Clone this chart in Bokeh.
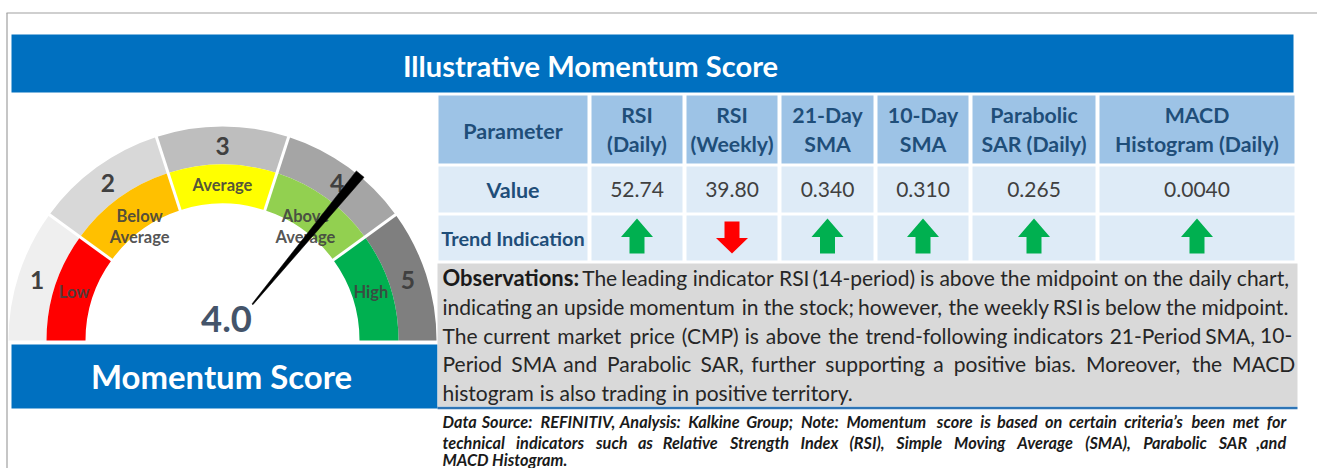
import math
from bokeh.plotting import figure
from bokeh.models import Range1d
from bokeh.embed import file_html
from bokeh.resources import INLINE
from bokeh.core.properties import value

# ---------------- data ----------------
title = "Illustrative Momentum Score"
score_title = "Momentum Score"
score = 4.0
level_labels = ["1", "2", "3", "4", "5"]
band_labels = ["Low", "Below Average", "Average", "Above Average", "High"]
row_labels = ["Parameter", "Value", "Trend Indication"]
parameters = ["RSI (Daily)", "RSI (Weekly)", "21-Day SMA", "10-Day SMA",
              "Parabolic SAR (Daily)", "MACD Histogram (Daily)"]
param_values = ["52.74", "39.80", "0.340", "0.310", "0.265", "0.0040"]
trends = ["up", "down", "up", "up", "up", "up"]
observation_lines = [
    "Observations: The leading indicator RSI (14-period) is above the midpoint on the daily chart,",
    "indicating an upside momentum in the stock; however, the weekly RSI is below the midpoint.",
    "The current market price (CMP) is above the trend-following indicators 21-Period SMA, 10-",
    "Period SMA and Parabolic SAR, further supporting a positive bias. Moreover, the MACD",
    "histogram is also trading in positive territory.",
]
note_lines = [
    "Data Source: REFINITIV, Analysis: Kalkine Group; Note:  Momentum score is based on certain criteria\u2019s been met for",
    "technical indicators such as Relative Strength Index (RSI), Simple Moving Average (SMA), Parabolic SAR ,and",
    "MACD Histogram.",
]

# ---------------- styles ----------------
level_colors = ["#EFEFEF", "#D8D8D8", "#BEBEBE", "#A5A5A5", "#7F7F7F"]
band_colors = ["#FF0000", "#FFC000", "#FFFF00", "#92D050", "#00B050"]
trend_colors = {"up": "#00B050", "down": "#FF0000"}
BLUE = "#0070C0"
HEAD = "#9DC3E6"
CELL = "#DEEBF7"
NAVY = "#1F4E79"
DARK = "#404040"
FONT = value("Lato")

# approximate Calibri advance widths (em) used to lay out justified text
CAL_R = {" ": .226, "a": .479, "b": .525, "c": .423, "d": .525, "e": .498, "f": .305, "g": .471,
         "h": .525, "i": .229, "j": .239, "k": .455, "l": .229, "m": .799, "n": .525, "o": .527,
         "p": .525, "q": .525, "r": .349, "s": .391, "t": .335, "u": .525, "v": .452, "w": .715,
         "x": .433, "y": .453, "z": .395, "A": .579, "B": .544, "C": .533, "D": .615, "E": .488,
         "F": .459, "G": .631, "H": .623, "I": .252, "J": .319, "K": .520, "L": .420, "M": .855,
         "N": .646, "O": .662, "P": .517, "Q": .673, "R": .543, "S": .459, "T": .487, "U": .642,
         "V": .567, "W": .890, "X": .519, "Y": .487, "Z": .468, "(": .303, ")": .303, ",": .250,
         ".": .252, "-": .306, ":": .268, ";": .268, "'": .221, "\u2019": .250}
for d in "0123456789":
    CAL_R[d] = .507
CAL_B = {" ": .226, "a": .494, "b": .537, "c": .418, "d": .537, "e": .503, "f": .316, "g": .474,
         "h": .537, "i": .246, "j": .255, "k": .480, "l": .246, "m": .813, "n": .537, "o": .538,
         "p": .537, "q": .537, "r": .355, "s": .399, "t": .347, "u": .537, "v": .473, "w": .745,
         "x": .459, "y": .474, "z": .397, "A": .606, "B": .561, "C": .529, "D": .630, "E": .488,
         "F": .459, "G": .637, "H": .631, "I": .267, "J": .331, "K": .547, "L": .423, "M": .874,
         "N": .659, "O": .676, "P": .532, "Q": .686, "R": .563, "S": .473, "T": .495, "U": .653,
         "V": .591, "W": .906, "X": .551, "Y": .520, "Z": .478, "(": .312, ")": .312, ",": .258,
         ".": .267, "-": .306, ":": .276, ";": .276, "'": .221, "\u2019": .250}
for d in "0123456789":
    CAL_B[d] = .507


def tw(s, table):
    return sum(table.get(c, .5) for c in s)


def layout(lines, x0, x1, size, bold_size, bold_prefix=None, all_bold=False, space=0.26):
    out = []
    for li, line in enumerate(lines):
        words = line.split()
        bolds = [all_bold or (li == 0 and wi == 0 and w == bold_prefix) for wi, w in enumerate(words)]
        widths = [tw(w, CAL_B) * bold_size if b else tw(w, CAL_R) * size for w, b in zip(words, bolds)]
        last = li == len(lines) - 1
        if not last and len(words) > 1:
            gap = (x1 - x0 - sum(widths)) / (len(words) - 1)
        else:
            gap = space * size
        x = x0
        for w, b, wd in zip(words, bolds, widths):
            out.append((w, x, li, b))
            x += wd + gap
    return out


# ---------------- figure (1 data unit = 1 screen pixel) ----------------
W, H = 1317, 468


def Y(sy):
    return H - sy


p = figure(width=W, height=H, x_range=Range1d(0, W), y_range=Range1d(0, H),
           output_backend="svg", toolbar_location=None, x_axis_location=None,
           y_axis_location=None, min_border=0)
p.grid.visible = False
p.outline_line_color = None
p.background_fill_color = "white"
p.border_fill_color = "white"

# outer frame lines
p.segment(x0=[6, 6.5], y0=[Y(12.5), Y(12.5)], x1=[1317, 6.5], y1=[Y(12.5), Y(468)],
          line_color="#A0A0A0", line_width=1.2)

# title bar
p.quad(left=[11], right=[1293], top=[Y(34)], bottom=[Y(92)], fill_color=BLUE, line_color=None)
p.text(x=[590], y=[Y(65)], text=[title], text_font=FONT, text_font_size="29.1px",
       text_font_style="bold", text_color="white", text_align="center", text_baseline="middle")

# ---------------- gauge ----------------
cx, cy = 222, Y(340)
R_IN, R_MID, R_OUT = 137, 176, 214
n = len(level_labels)
step = math.pi / n
starts = [math.pi - (k + 1) * step for k in range(n)]
ends = [math.pi - k * step for k in range(n)]
mids = [(s + e) / 2 for s, e in zip(starts, ends)]

p.annular_wedge(x=[cx] * n, y=[cy] * n, inner_radius=R_MID, outer_radius=R_OUT,
                start_angle=starts, end_angle=ends, fill_color=level_colors, line_color=None)
p.annular_wedge(x=[cx] * n, y=[cy] * n, inner_radius=R_IN, outer_radius=R_MID,
                start_angle=starts, end_angle=ends, fill_color=band_colors, line_color=None)
bnd = [math.pi - k * step for k in range(1, n)]
p.segment(x0=[cx + (R_IN - 2) * math.cos(a) for a in bnd], y0=[cy + (R_IN - 2) * math.sin(a) for a in bnd],
          x1=[cx + (R_OUT + 2) * math.cos(a) for a in bnd], y1=[cy + (R_OUT + 2) * math.sin(a) for a in bnd],
          line_color="white", line_width=3)

R_LVL = 195
p.text(x=[cx + R_LVL * math.cos(m) for m in mids], y=[cy + R_LVL * math.sin(m) for m in mids],
       text=level_labels, text_font=FONT, text_font_size="24.5px", text_font_style="bold",
       text_color=DARK, text_align="center", text_baseline="middle")

bx, by, bt = [], [], []
for lab, m in zip(band_labels, mids):
    parts = lab.split(" ", 1)
    rr = 156 if len(parts) == 1 else 141
    ccx, ccy = cx + rr * math.cos(m), cy + rr * math.sin(m)
    for i, part in enumerate(parts):
        bx.append(ccx)
        by.append(ccy - (i - (len(parts) - 1) / 2) * 21)
        bt.append(part)
p.text(x=bx, y=by, text=bt, text_font=FONT, text_font_size="16.5px", text_font_style="bold",
       text_color=DARK, text_alpha=0.9, text_align="center", text_baseline="middle")

# needle
G_MIN, G_MAX = 0.4, 5.4
ang = math.pi * (1 - (score - G_MIN) / (G_MAX - G_MIN))
ca, sa = math.cos(ang), math.sin(ang)
nx, ny = -sa, ca
r0, r1, w0, w1 = 47, 216, 0.6, 5.0
needle_x = [cx + r0 * ca + nx * w0, cx + r1 * ca + nx * w1, cx + r1 * ca - nx * w1, cx + r0 * ca - nx * w0]
needle_y = [cy + r0 * sa + ny * w0, cy + r1 * sa + ny * w1, cy + r1 * sa - ny * w1, cy + r0 * sa - ny * w0]
p.patch(x=needle_x, y=needle_y, fill_color="black", line_color="black", line_width=0.5)

p.text(x=[226], y=[Y(318)], text=[f"{score:.1f}"], text_font=FONT, text_font_size="36.4px",
       text_font_style="bold", text_color="#44546A", text_align="center", text_baseline="middle")

# score bar
p.quad(left=[11], right=[437], top=[Y(344)], bottom=[Y(408)], fill_color=BLUE, line_color=None)
p.text(x=[221], y=[Y(376)], text=[score_title], text_font=FONT, text_font_size="32.9px",
       text_font_style="bold", text_color="white", text_align="center", text_baseline="middle")

# ---------------- table ----------------
col_left = [438, 591, 686, 781, 877, 972, 1099]
col_right = [587, 682, 777, 873, 968, 1095, 1294]
row_top = [95, 166, 215]
row_bot = [163, 212, 260]
ql, qr, qt, qb, qc = [], [], [], [], []
for ri in range(3):
    for ci in range(len(col_left)):
        ql.append(col_left[ci]); qr.append(col_right[ci])
        qt.append(Y(row_top[ri])); qb.append(Y(row_bot[ri]))
        qc.append(HEAD if ri == 0 else CELL)
p.quad(left=ql, right=qr, top=qt, bottom=qb, fill_color=qc, line_color=None)

ccen = [(l + r) / 2 for l, r in zip(col_left, col_right)]

# row labels
p.text(x=[ccen[0]] * 2, y=[Y(130), Y(189)], text=row_labels[:2], text_font=FONT,
       text_font_size="21.5px", text_font_style="bold", text_color=NAVY,
       text_align="center", text_baseline="middle")
p.text(x=[ccen[0]], y=[Y(237)], text=row_labels[2:], text_font=FONT,
       text_font_size="19.9px", text_font_style="bold", text_color=NAVY,
       text_align="center", text_baseline="middle")
# header lines
hx, hy, ht = [], [], []
for ci, prm in enumerate(parameters):
    parts = prm.split(" ", 1)
    for i, part in enumerate(parts):
        hx.append(ccen[ci + 1]); hy.append(Y(114 + 29 * i)); ht.append(part)
p.text(x=hx, y=hy, text=ht, text_font=FONT, text_font_size="21.3px", text_font_style="bold",
       text_color=NAVY, text_align="center", text_baseline="middle")
# values
p.text(x=ccen[1:], y=[Y(189)] * len(param_values), text=param_values, text_font=FONT,
       text_font_size="21px", text_color=DARK, text_align="center", text_baseline="middle")
# arrows
axs, ays, acs = [], [], []
for ci, t in enumerate(trends):
    x0 = ccen[ci + 1]
    if t == "up":
        tip, base, end = 218, 236.5, 253
    else:
        tip, base, end = 253, 237.5, 221
    xs = [x0, x0 + 16, x0 + 7.5, x0 + 7.5, x0 - 7.5, x0 - 7.5, x0 - 16]
    ys = [tip, base, base, end, end, base, base]
    axs.append(xs); ays.append([Y(v) for v in ys]); acs.append(trend_colors[t])
p.patches(xs=axs, ys=ays, fill_color=acs, line_color=None)

# ---------------- observations ----------------
p.quad(left=[437], right=[1297], top=[Y(263)], bottom=[Y(406)], fill_color="#D9D9D9", line_color=None)
p.segment(x0=[437], y0=[Y(407.5)], x1=[1297], y1=[Y(407.5)], line_color="#2E75B6", line_width=2.5)

obs_y = [277, 305.5, 334.5, 363, 392]
words = layout(observation_lines, 442, 1289, 22.3, 22.0 * 1.055, bold_prefix="Observations:")
reg = [(w, x, li) for w, x, li, b in words if not b]
bld = [(w, x, li) for w, x, li, b in words if b]
p.text(x=[x for _, x, _ in reg], y=[Y(obs_y[li]) for _, _, li in reg], text=[w for w, _, _ in reg],
       text_font=FONT, text_font_size="21px", text_color="#262626",
       text_align="left", text_baseline="middle")
p.text(x=[x for _, x, _ in bld], y=[Y(obs_y[li]) for _, _, li in bld], text=[w for w, _, _ in bld],
       text_font=FONT, text_font_size="22px", text_font_style="bold", text_color="#1A1A1A",
       text_align="left", text_baseline="middle")

NOTE_PX = 16.3          # rendered size
NOTE_LAYOUT = 17.1      # Calibri-table size giving the same word widths
note_y = [421, 441.5, 459]
nw = layout(note_lines, 442, 1287, NOTE_LAYOUT, NOTE_LAYOUT, all_bold=True)
p.text(x=[x for _, x, _, _ in nw], y=[Y(note_y[li]) for _, _, li, _ in nw], text=[w for w, _, _, _ in nw],
       text_font=FONT, text_font_size=f"{NOTE_PX}px", text_font_style="bold italic", text_color="#1A1A1A",
       text_align="left", text_baseline="middle")

open("out.html", "w").write(file_html(p, INLINE))
